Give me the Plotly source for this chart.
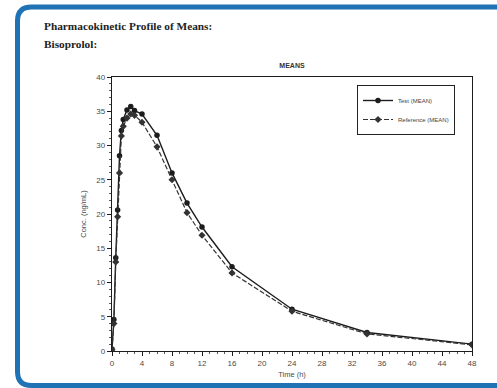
import plotly.graph_objects as go

# Mean plasma concentration–time data (ng/mL vs h)
time_h = [0, 0.25, 0.5, 0.75, 1, 1.25, 1.5, 2, 2.5, 3, 4, 6, 8, 10, 12, 16, 24, 34, 48]
test_mean = [0.3, 4.6, 13.6, 20.6, 28.5, 32.2, 33.8, 35.2, 35.7, 35.1, 34.6, 31.5,
             26.0, 21.6, 18.1, 12.3, 6.1, 2.7, 1.0]
ref_mean = [0.2, 4.0, 13.0, 19.6, 26.0, 31.4, 32.8, 34.0, 34.6, 34.4, 33.4, 29.8,
            25.0, 20.2, 16.9, 11.4, 5.8, 2.5, 0.9]
x_ticks = list(range(0, 49, 4))
y_ticks = list(range(0, 41, 5))

W, H = 497, 388
L, R, T, B = 112, 25, 77, 37
PW, PH = W - L - R, H - T - B


def px(x):
    return (x - L) / PW


def py(y):
    return (H - B - y) / PH


INK = "#1c1c1c"
SANS = "Liberation Sans, Arial, sans-serif"

fig = go.Figure()
fig.add_trace(go.Scatter(
    x=time_h, y=test_mean, name="Test (MEAN)", mode="lines+markers",
    line=dict(color=INK, width=1.4),
    marker=dict(symbol="circle", size=5.5, color=INK),
))
fig.add_trace(go.Scatter(
    x=time_h, y=ref_mean, name="Reference (MEAN)", mode="lines+markers",
    line=dict(color="#333", width=1.2, dash="5px,2px"),
    marker=dict(symbol="diamond", size=5.5, color="#333"),
))

tick_font = dict(family=SANS, size=8, color="#4a4a4a")

fig.update_layout(
    width=W, height=H,
    margin=dict(l=L, r=R, t=T, b=B),
    paper_bgcolor="white",
    plot_bgcolor="white",
    showlegend=True,
    legend=dict(
        x=px(357), y=py(85), xanchor="left", yanchor="top",
        bgcolor="white", bordercolor="#222", borderwidth=1,
        font=dict(family=SANS, size=6, color="#444"),
        itemwidth=30, tracegroupgap=0,
    ),
    title=dict(
        text="<b>MEANS</b>", x=0.5, xanchor="center", xref="paper",
        y=1 - 66 / H, yanchor="middle",
        font=dict(family=SANS, size=7, color="#333"),
    ),
    xaxis=dict(
        range=[0, 48], tickvals=x_ticks, showgrid=False, zeroline=False,
        showline=True, linecolor=INK, linewidth=1.3, mirror=True,
        ticks="outside", ticklen=4, tickcolor=INK, tickwidth=1,
        minor=dict(dtick=1, ticks="outside", ticklen=2, tickcolor="#555"),
        tickfont=tick_font,
        title=dict(text="Time (h)", standoff=4,
                   font=dict(family=SANS, size=7.5, color="#4a4a4a")),
    ),
    yaxis=dict(
        range=[0, 40], tickvals=y_ticks, showgrid=False, zeroline=False,
        showline=True, linecolor=INK, linewidth=1.3, mirror=True,
        ticks="outside", ticklen=4, tickcolor=INK, tickwidth=1,
        minor=dict(dtick=1, ticks="outside", ticklen=2, tickcolor="#555"),
        tickfont=tick_font,
        title=dict(text="Conc. (ng/mL)", standoff=8,
                   font=dict(family=SANS, size=7.5, color="#4a4a4a")),
    ),
)

# Page header
header_font = dict(family="Liberation Serif, Times New Roman, serif", size=11.3, color="#222")
fig.add_annotation(text="<b>Pharmacokinetic Profile of Means:</b>", xref="paper", yref="paper",
                   x=px(42), y=py(26), xanchor="left", yanchor="middle",
                   showarrow=False, font=header_font)
fig.add_annotation(text="<b>Bisoprolol:</b>", xref="paper", yref="paper",
                   x=px(42), y=py(44), xanchor="left", yanchor="middle",
                   showarrow=False, font=header_font)

# Rounded blue frame around the page
r = 14
x0, y0, y1, x1 = 17.5, 7, 385.5, 510
frame_path = (
    f"M {px(x1)},{py(y0)} L {px(x0 + r)},{py(y0)} "
    f"Q {px(x0)},{py(y0)} {px(x0)},{py(y0 + r)} "
    f"L {px(x0)},{py(y1 - r)} "
    f"Q {px(x0)},{py(y1)} {px(x0 + r)},{py(y1)} "
    f"L {px(x1)},{py(y1)}"
)
fig.add_shape(type="path", path=frame_path, xref="paper", yref="paper",
              line=dict(color="#1f72b4", width=5), layer="above")

fig.write_html("out.html")
